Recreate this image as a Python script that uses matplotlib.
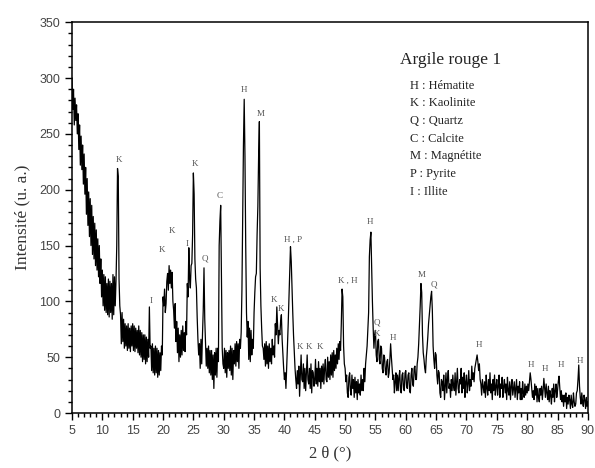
import numpy as np
import matplotlib
matplotlib.use("Agg")
import matplotlib.pyplot as plt
from matplotlib.ticker import MultipleLocator

# Diffractogram, one value every 0.125 deg from 5 to 90
two_theta = np.arange(5.0, 90.0 + 0.001, 0.125)
intensity = [
    300, 272, 290, 258, 282, 262, 276, 250,   # 5
    268, 236, 258, 222, 248, 218, 240, 205,   # 6
    232, 196, 220, 178, 210, 168, 198, 158,   # 7
    192, 150, 186, 142, 176, 138, 170, 132,   # 8
    164, 128, 156, 122, 150, 116, 138, 104,   # 9
    128, 96, 124, 92, 122, 90, 116, 88,       # 10
    120, 86, 118, 90, 116, 84, 124, 88,       # 11
    122, 96, 118, 150, 219, 212, 120, 96,     # 12
    88, 62, 90, 64, 84, 58, 80, 60,           # 13
    78, 56, 80, 58, 76, 55, 78, 60,           # 14
    80, 56, 78, 55, 76, 58, 74, 54,           # 15
    78, 52, 74, 50, 72, 46, 70, 48,           # 16
    70, 44, 68, 46, 66, 50, 95, 58,           # 17
    60, 38, 62, 36, 58, 34, 60, 36,           # 18
    58, 32, 56, 34, 54, 38, 60, 52,           # 19
    104, 96, 111, 90, 98, 118, 125, 110,      # 20
    132, 116, 128, 112, 126, 100, 92, 76,     # 21
    98, 64, 82, 54, 76, 46, 70, 50,           # 22
    74, 52, 78, 56, 72, 55, 82, 70,           # 23
    116, 104, 148, 120, 112, 132, 134, 160,   # 24
    215, 196, 138, 120, 112, 86, 66, 52,      # 25
    62, 40, 66, 44, 70, 92, 130, 84,          # 26
    62, 42, 58, 40, 60, 36, 56, 34,           # 27
    56, 30, 52, 22, 54, 34, 58, 32,           # 28
    58, 46, 150, 172, 186, 120, 58, 44,       # 29
    40, 58, 36, 56, 32, 54, 40, 56,           # 30
    38, 60, 34, 58, 30, 56, 44, 62,           # 31
    42, 64, 46, 62, 40, 66, 58, 72,           # 32
    110, 180, 240, 281, 230, 150, 90, 68,     # 33
    82, 48, 76, 46, 74, 52, 66, 58,           # 34
    90, 108, 122, 125, 160, 185, 230, 261,    # 35
    130, 96, 76, 60, 58, 48, 62, 42,          # 36
    64, 44, 60, 40, 62, 46, 58, 44,           # 37
    66, 52, 60, 50, 80, 70, 95, 78,           # 38
    62, 74, 70, 82, 88, 66, 52, 40,           # 39
    30, 36, 22, 40, 60, 80, 104, 128,         # 40
    149, 136, 112, 90, 70, 54, 40, 30,        # 41
    22, 38, 26, 42, 15, 34, 52, 30,           # 42
    28, 44, 22, 40, 20, 36, 52, 30,           # 43
    26, 40, 22, 44, 18, 38, 36, 24,           # 44
    30, 48, 26, 40, 24, 46, 28, 40,           # 45
    22, 42, 28, 44, 26, 40, 48, 30,           # 46
    28, 50, 32, 46, 30, 52, 34, 54,           # 47
    32, 56, 38, 52, 40, 58, 44, 62,           # 48
    48, 64, 56, 80, 111, 104, 60, 44,         # 49
    40, 28, 34, 18, 14, 32, 36, 20,           # 50
    16, 34, 22, 30, 14, 32, 18, 28,           # 51
    12, 30, 18, 26, 16, 34, 20, 30,           # 52
    20, 40, 28, 44, 52, 60, 74, 90,           # 53
    140, 155, 162, 130, 100, 76, 58, 70,      # 54
    74, 52, 46, 64, 66, 48, 44, 60,           # 55
    58, 40, 36, 52, 50, 38, 34, 46,           # 56
    48, 32, 36, 48, 62, 50, 40, 30,           # 57
    34, 18, 28, 36, 20, 34, 20, 32,           # 58
    38, 20, 18, 34, 36, 22, 20, 36,           # 59
    38, 24, 22, 34, 36, 20, 18, 34,           # 60
    40, 26, 24, 40, 42, 30, 30, 44,           # 61
    50, 62, 78, 96, 116, 108, 70, 54,         # 62
    48, 40, 36, 50, 58, 68, 80, 88,           # 63
    96, 104, 109, 92, 60, 48, 40, 54,         # 64
    52, 34, 26, 38, 36, 18, 14, 30,           # 65
    28, 20, 34, 12, 24, 36, 18, 30,           # 66
    38, 22, 26, 14, 30, 20, 34, 24,           # 67
    20, 36, 16, 28, 40, 22, 18, 30,           # 68
    26, 40, 18, 32, 22, 36, 14, 28,           # 69
    34, 18, 26, 38, 20, 30, 24, 42,           # 70
    30, 36, 28, 40, 44, 48, 52, 46,           # 71
    38, 44, 30, 26, 16, 30, 24, 18,           # 72
    28, 14, 34, 22, 16, 30, 20, 36,           # 73
    18, 26, 12, 30, 20, 34, 16, 24,           # 74
    30, 16, 24, 34, 14, 26, 22, 32,           # 75
    14, 24, 30, 18, 26, 12, 32, 20,           # 76
    16, 28, 12, 24, 30, 16, 22, 28,           # 77
    14, 22, 30, 12, 24, 18, 28, 12,           # 78
    22, 12, 28, 18, 14, 26, 16, 24,           # 79
    18, 26, 20, 28, 36, 30, 22, 14,           # 80
    20, 12, 26, 16, 24, 10, 22, 14,           # 81
    10, 22, 16, 24, 12, 20, 31, 22,           # 82
    14, 26, 18, 12, 24, 10, 20, 16,           # 83
    8, 22, 14, 26, 10, 20, 26, 14,            # 84
    20, 28, 33, 22, 12, 20, 10, 16,           # 85
    6, 16, 10, 18, 4, 14, 8, 16,              # 86
    12, 4, 16, 8, 5, 18, 10, 6,               # 87
    8, 18, 20, 30, 43, 24, 14, 8,             # 88
    18, 10, 6, 16, 12, 4, 14, 6,              # 89
    10,                                       # 90
]
assert len(intensity) == len(two_theta)

# peak labels: text, 2theta, intensity where the label sits
peak_text = ["K", "I", "K", "K", "I", "K", "Q", "C", "H", "M", "K", "K",
             "H , P", "K", "K", "K", "K , H", "H", "Q", "K", "H",
             "M", "Q", "H", "H", "H", "H", "H"]
peak_x = [12.7, 18.0, 19.8, 21.4, 24.0, 25.2, 26.9, 29.3, 33.3, 36.1, 38.3, 39.4,
          41.5, 42.6, 44.1, 45.9, 50.4, 54.1, 55.3, 55.3, 57.9,
          62.7, 64.6, 72.1, 80.6, 83.0, 85.6, 88.7]
peak_y = [227, 100, 146, 163, 151, 223, 138, 194, 289, 268, 101, 93,
          155, 59, 59, 59, 118, 171, 81, 71, 67,
          124, 115, 61, 43, 39, 43, 47]

phases = ["H : Hématite", "K : Kaolinite", "Q : Quartz", "C : Calcite",
          "M : Magnétite", "P : Pyrite", "I : Illite"]

serif = ["Liberation Serif", "DejaVu Serif"]
sans = ["Liberation Sans", "DejaVu Sans"]

fig = plt.figure(figsize=(5.95, 4.68), dpi=100)
ax = fig.add_axes([0.121, 0.1175, 0.867, 0.835])

ax.plot(two_theta, intensity, color="black", lw=0.9)

ax.set_xlim(5, 90)
ax.set_ylim(0, 350)
ax.xaxis.set_major_locator(MultipleLocator(5))
ax.xaxis.set_minor_locator(MultipleLocator(1))
ax.yaxis.set_major_locator(MultipleLocator(50))
ax.yaxis.set_minor_locator(MultipleLocator(10))
ax.tick_params(which="both", direction="out", width=1, color="black",
               labelsize=9, labelcolor="#444444")
ax.tick_params(which="major", length=5)
ax.tick_params(which="minor", length=3)
for lab in ax.get_xticklabels() + ax.get_yticklabels():
    lab.set_family(sans)
for sp in ax.spines.values():
    sp.set_linewidth(1.1)

ax.set_xlabel("2 θ (°)", family=serif, fontsize=12, color="#333333", labelpad=6)
ax.set_ylabel("Intensité (u. a.)", family=serif, fontsize=12.5, color="#333333",
              labelpad=6)

for t, px, py in zip(peak_text, peak_x, peak_y):
    ax.text(px, py, t, family=serif, fontsize=6.5, color="#555555",
            ha="center", va="center")

ax.text(0.635, 0.903, "Argile rouge 1", transform=ax.transAxes, family=serif,
        fontsize=12.5, color="#222222", ha="left", va="center")
for i, s in enumerate(phases):
    ax.text(0.655, 0.838 - i * 0.0453, s, transform=ax.transAxes, family=serif,
            fontsize=9, color="#222222", ha="left", va="center")

fig.savefig("out.png", dpi=100)
